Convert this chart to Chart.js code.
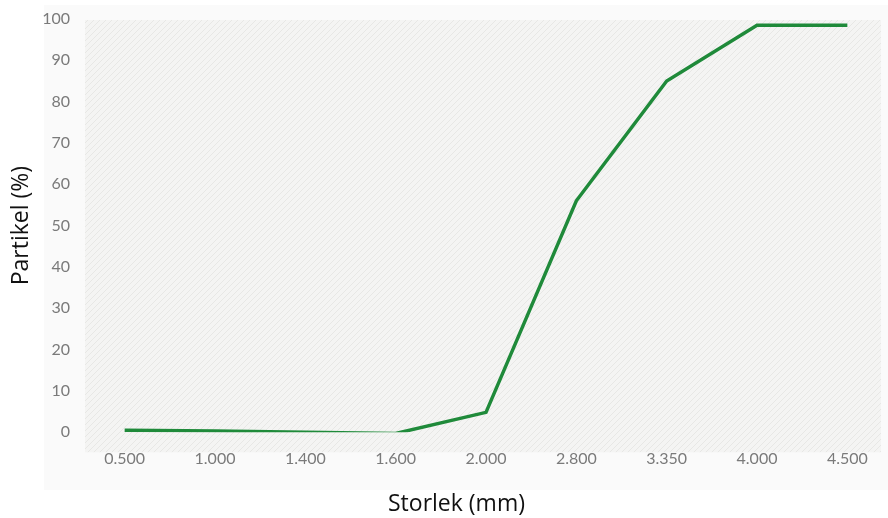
<!DOCTYPE html>
<html><head><meta charset="utf-8">
<script src="https://cdn.jsdelivr.net/npm/chart.js@4/dist/chart.umd.min.js"></script>
<style>html,body{margin:0;padding:0;background:#fff;overflow:hidden;}#wrap{width:888px;height:518px;position:relative;}</style>
</head><body><div id="wrap"><canvas id="c" width="888" height="518"></canvas></div>
<script>
const categories = ["0.500","1.000","1.400","1.600","2.000","2.800","3.350","4.000","4.500"];
const partikel = [0.5, 0.3, 0.0, -0.3, 4.8, 56, 85, 98.5, 98.5];
const yTicks = [0,10,20,30,40,50,60,70,80,90,100];

const points = categories.map((c, i) => ({ x: i, y: partikel[i] }));

function makePattern(ctx){
  const p = document.createElement('canvas'); p.width = 6; p.height = 6;
  const g = p.getContext('2d');
  g.fillStyle = '#f4f4f3'; g.fillRect(0,0,6,6);
  g.strokeStyle = '#e7e7e5'; g.lineWidth = 1;
  g.beginPath();
  g.moveTo(0,6); g.lineTo(6,0);
  g.moveTo(-3,3); g.lineTo(3,-3);
  g.moveTo(3,9); g.lineTo(9,3);
  g.stroke();
  return ctx.createPattern(p,'repeat');
}
const bgPlugin = {
  id:'bg',
  beforeDraw(chart){
    const ctx = chart.ctx, a = chart.chartArea;
    ctx.save();
    ctx.fillStyle = '#fafafa';
    ctx.fillRect(44, 5, 844, 485);
    ctx.fillStyle = makePattern(ctx);
    ctx.fillRect(a.left + 1, a.top + 1, a.right - a.left - 8, a.bottom - a.top + 19);
    ctx.restore();
  }
};

new Chart(document.getElementById('c'), {
  type:'line',
  data:{ datasets:[{ data: points, borderColor:'#1f8a3a', borderWidth:3.5, pointRadius:0, tension:0, fill:false }]},
  options:{
    responsive:false, animation:false,
    layout:{ padding:{ left:25, right:0, top:19, bottom:0 } },
    plugins:{ legend:{display:false}, tooltip:{enabled:false},
      title:{ display:true, position:'bottom', text:'Storlek (mm)', color:'#111', font:{family:'Open Sans', size:23, weight:'normal'}, padding:{top:5,bottom:0} } },
    scales:{
      x:{ type:'linear', min:-0.45, max:8.45,
          afterBuildTicks(s){ s.ticks = categories.map((c,i)=>({value:i})); },
          grid:{display:false, drawTicks:false}, border:{display:false},
          ticks:{ color:'#7a7a7a', font:{family:'Lato', size:16}, padding:17, maxRotation:0, autoSkip:false,
                  callback:(v)=>categories[v] } },
      y:{ min:0, max:100, afterBuildTicks(s){ s.ticks = yTicks.map(v=>({value:v})); },
          afterFit(s){ s.width = 59; s.paddingTop = 0; },
          grid:{display:false, drawTicks:false}, border:{display:false},
          ticks:{ color:'#7a7a7a', font:{family:'Lato', size:16}, padding:14 },
          title:{ display:true, text:'Partikel (%)', color:'#111', font:{family:'Open Sans', size:23, weight:'normal'}, padding:{top:-17,bottom:0} } }
    }
  },
  plugins:[bgPlugin]
});
</script></body></html>
